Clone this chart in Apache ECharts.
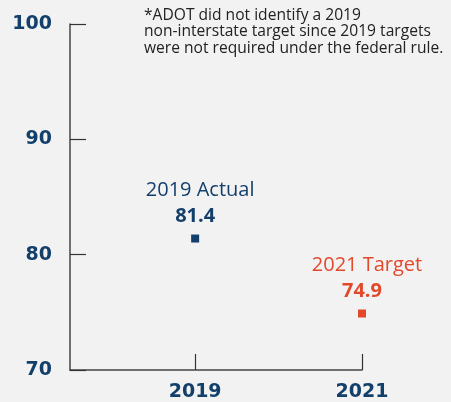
<!DOCTYPE html>
<html>
<head>
<meta charset="utf-8">
<script src="https://cdn.jsdelivr.net/npm/echarts@6/dist/echarts.min.js"></script>
<style>
  html, body { margin: 0; padding: 0; background: #f2f2f2; }
  #main { width: 451px; height: 402px; }
</style>
</head>
<body>
<div id="main"></div>
<script>
// data
const years = [2019, 2021];
const values = [81.4, 74.9];
const pointNames = ['2019 Actual', '2021 Target'];
const yTicks = [70, 80, 90, 100];
const noteLines = [
  '*ADOT did not identify a 2019',
  'non-interstate target since 2019 targets',
  'were not required under the federal rule.'
];

const navy = '#133f6b';
const red = '#e2492b';
const pointColors = [navy, red];

let myChart = echarts.init(document.getElementById('main'));

let option = {
  backgroundColor: '#f2f2f2',
  animation: false,
  title: {
    text: noteLines.join('\n'),
    left: 144,
    top: 7,
    padding: 0,
    textStyle: {
      fontFamily: 'Open Sans',
      fontSize: 15.6,
      fontWeight: 'normal',
      color: '#222',
      lineHeight: 16.5
    }
  },
  grid: { left: 70, right: 89, top: 24, bottom: 31 },
  xAxis: {
    type: 'value',
    min: 2017.5,
    max: 2021,
    splitLine: { show: false },
    axisLine: { lineStyle: { color: '#444', width: 1.5 } },
    axisTick: { inside: true, length: 16, customValues: years, lineStyle: { color: '#333', width: 1.2 } },
    axisLabel: {
      customValues: years,
      formatter: v => String(v),
      margin: 13,
      fontFamily: 'DejaVu Sans',
      fontWeight: 'bold',
      fontSize: 19,
      color: navy
    }
  },
  yAxis: {
    type: 'value',
    min: yTicks[0],
    max: yTicks[yTicks.length - 1],
    interval: 10,
    splitLine: { show: false },
    axisLine: { show: true, lineStyle: { color: '#444', width: 1.5 } },
    axisTick: { show: true, inside: true, length: 16, lineStyle: { color: '#333', width: 1.2 } },
    axisLabel: {
      margin: 18,
      fontFamily: 'DejaVu Sans',
      fontWeight: 'bold',
      fontSize: 19,
      color: navy
    }
  },
  series: [{
    type: 'scatter',
    symbol: 'rect',
    symbolSize: 8,
    itemStyle: { opacity: 1 },
    data: years.map((y, i) => ({
      value: [y, values[i]],
      itemStyle: { color: pointColors[i], opacity: 1 },
      label: {
        show: true,
        position: 'top',
        distance: 6,
        formatter: '{n|' + pointNames[i] + '}\n{v|' + values[i] + '}',
        rich: {
          n: { fontFamily: 'Open Sans', fontSize: 20, color: pointColors[i], lineHeight: 28, padding: [0, 0, 0, 10] },
          v: { fontFamily: 'Open Sans', fontSize: 20, fontWeight: 'bold', color: pointColors[i], lineHeight: 24 }
        }
      }
    }))
  }]
};

myChart.setOption(option);
</script>
</body>
</html>
